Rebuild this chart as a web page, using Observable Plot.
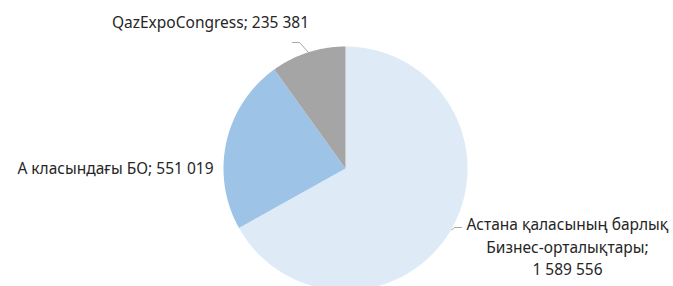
<!DOCTYPE html>
<html>
<head>
<meta charset="utf-8">
<script src="https://cdn.jsdelivr.net/npm/d3@7"></script>
<script src="https://cdn.jsdelivr.net/npm/@observablehq/plot@0.6"></script>
<style>
  html, body { margin: 0; padding: 0; background: #fff; }
  #chart svg { display: block; }
</style>
</head>
<body>
<div id="chart"></div>
<script>
// ---- data ----
const categories = [
  "Астана қаласының барлық Бизнес-орталықтары",
  "А класындағы БО",
  "QazExpoCongress"
];
const values = [1589556, 551019, 235381];
const colors = ["#DEEBF7", "#9DC3E6", "#A5A5A5"];

// ---- layout ----
const W = 673, H = 286;
const cx = 345, cy = 168, R = 122; // pixels
const fmt = v => d3.format(",")(v).replace(/,/g, " ");

// pie angles (clockwise from 12 o'clock)
const pie = d3.pie().sort(null).value(d => d.value);
const arcs = pie(categories.map((c, i) => ({category: c, value: values[i], color: colors[i], i})));

// slice outlines in unit-radius coordinates
const slicePts = [];
arcs.forEach(a => {
  const n = Math.max(2, Math.ceil((a.endAngle - a.startAngle) / 0.01));
  slicePts.push({k: a.data.i, x: 0, y: 0});
  for (let j = 0; j <= n; j++) {
    const t = a.startAngle + (a.endAngle - a.startAngle) * j / n;
    slicePts.push({k: a.data.i, x: Math.sin(t), y: Math.cos(t)});
  }
  slicePts.push({k: a.data.i, x: 0, y: 0});
});

// pixel -> unit coords helpers for labels
const ux = px => (px - cx) / R;
const uy = py => (cy - py) / R;

const labelText = [
  categories[0].replace(" Бизнес", "\nБизнес") + ";\n" + fmt(values[0]),
  categories[1] + "; " + fmt(values[1]),
  categories[2] + "; " + fmt(values[2])
];
const labelPos = [
  {x: ux(567), y: uy(245), anchor: "middle"},
  {x: ux(213), y: uy(166), anchor: "end"},
  {x: ux(210), y: uy(20), anchor: "middle"}
];
const labels = labelText.map((t, i) => ({text: t, ...labelPos[i]}));

const leaders = [
  [{x: ux(292), y: uy(42)}, {x: ux(299), y: uy(42)}, {x: ux(308), y: uy(52)}],
  [{x: ux(451), y: uy(229.5)}, {x: ux(454), y: uy(227)}, {x: ux(461), y: uy(227)}]
].flatMap((pts, k) => pts.map(p => ({...p, k})));

const marks = [];
arcs.forEach(a => {
  marks.push(Plot.line(slicePts.filter(p => p.k === a.data.i), {
    x: "x", y: "y", fill: a.data.color, stroke: "none", curve: "linear"
  }));
});
marks.push(Plot.line(leaders, {x: "x", y: "y", z: "k", stroke: "#A6A6A6", strokeWidth: 1}));
for (const anchor of ["middle", "end"]) {
  marks.push(Plot.text(labels.filter(d => d.anchor === anchor), {
    x: "x", y: "y", text: "text", textAnchor: anchor,
    fill: "#262626", fontSize: 15.5, lineHeight: 1.45
  }));
}

const chart = Plot.plot({
  width: W, height: H,
  margin: 0,
  style: {fontFamily: "'Segoe UI', 'Noto Sans', sans-serif", background: "#fff"},
  x: {domain: [ux(0), ux(W)], range: [0, W], axis: null},
  y: {domain: [uy(H), uy(0)], range: [H, 0], axis: null},
  marks
});
document.getElementById("chart").appendChild(chart);
</script>
</body>
</html>
